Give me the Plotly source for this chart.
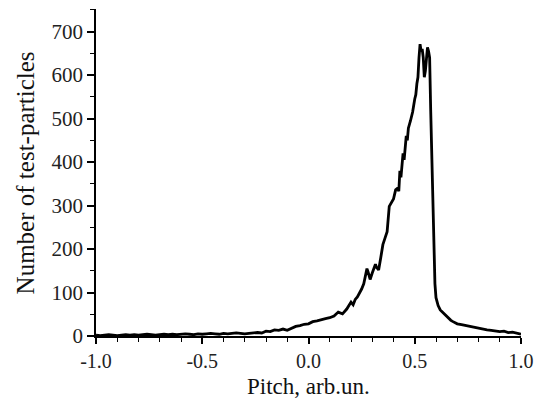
import plotly.graph_objects as go

pitch = [
    -1.00, -0.98, -0.96, -0.94, -0.92, -0.90, -0.88, -0.86, -0.84, -0.82,
    -0.80, -0.78, -0.76, -0.74, -0.72, -0.70, -0.68, -0.66, -0.64, -0.62,
    -0.60, -0.58, -0.56, -0.54, -0.52, -0.50, -0.48, -0.46, -0.44, -0.42,
    -0.40, -0.38, -0.36, -0.34, -0.32, -0.30, -0.28, -0.26, -0.24, -0.22,
    -0.20, -0.18, -0.16, -0.14, -0.12, -0.10, -0.08, -0.06, -0.04, -0.02,
    0.00, 0.02, 0.04, 0.06, 0.08, 0.10, 0.12, 0.14, 0.16, 0.18,
    0.20, 0.21, 0.22, 0.23, 0.24, 0.25, 0.26, 0.27, 0.275, 0.28,
    0.29, 0.30, 0.31, 0.315, 0.32, 0.33, 0.34, 0.35, 0.36, 0.37,
    0.38, 0.39, 0.40, 0.41, 0.42, 0.425, 0.43, 0.435, 0.44, 0.445,
    0.45, 0.455, 0.46, 0.465, 0.47, 0.48, 0.49, 0.50, 0.505, 0.51,
    0.515, 0.52, 0.525, 0.53, 0.535, 0.54, 0.545, 0.55, 0.555, 0.56,
    0.565, 0.57, 0.575, 0.58, 0.585, 0.59, 0.595, 0.60, 0.61, 0.62,
    0.63, 0.64, 0.65, 0.66, 0.67, 0.68, 0.69, 0.70, 0.72, 0.74,
    0.76, 0.78, 0.80, 0.82, 0.84, 0.86, 0.88, 0.90, 0.92, 0.94,
    0.96, 0.98, 1.00,
]

counts = [
    2, 1, 2, 3, 2, 1, 2, 3, 2, 3,
    2, 3, 4, 3, 2, 3, 4, 3, 4, 3,
    4, 5, 4, 3, 5, 4, 5, 6, 5, 4,
    6, 5, 6, 7, 6, 5, 6, 7, 8, 7,
    11, 10, 14, 13, 16, 13, 18, 22, 24, 27,
    28, 33, 35, 38, 40, 42, 46, 55, 51, 62,
    78, 72, 84, 90, 98, 108, 120, 140, 155, 148,
    130, 145, 160, 165, 158, 152, 180, 210, 225, 240,
    298, 308, 315, 336, 340, 333, 380, 365, 400, 420,
    405, 440, 460, 450, 478, 495, 515, 545, 555, 580,
    595, 640, 671, 655, 660, 640, 595, 610, 650, 664,
    655, 640, 520, 420, 280, 180, 120, 88, 70, 60,
    55, 50, 45, 42, 36, 33, 31, 28, 26, 24,
    21, 19, 17, 16, 14, 13, 12, 10, 11, 8,
    9, 7, 4,
]

x_ticks = [-1.0, -0.5, 0.0, 0.5, 1.0]
y_ticks = [0, 100, 200, 300, 400, 500, 600, 700]

font_family = "Liberation Serif, Times New Roman, serif"

fig = go.Figure()
fig.add_trace(go.Scatter(
    x=pitch, y=counts, mode="lines",
    line=dict(color="black", width=2.8),
    showlegend=False, hoverinfo="skip",
))

fig.update_layout(
    width=545, height=398,
    margin=dict(l=96, r=24, t=9, b=62),
    paper_bgcolor="white", plot_bgcolor="white",
    font=dict(family=font_family, size=20, color="#222"),
)

fig.update_xaxes(
    range=[-1.0, 1.0], automargin=False,
    tickmode="array", tickvals=x_ticks,
    ticktext=[f"{v:.1f}" for v in x_ticks],
    ticks="outside", ticklen=6, tickwidth=1.5, tickcolor="black",
    minor=dict(dtick=0.1, ticks="outside", ticklen=4, tickwidth=1.2, tickcolor="black", showgrid=False),
    showline=True, linecolor="black", linewidth=1.5,
    showgrid=False, zeroline=False,
    tickfont=dict(size=20, family=font_family, color="#222"),
)

fig.update_yaxes(
    range=[0, 752], automargin=False,
    tickmode="array", tickvals=y_ticks,
    ticks="outside", ticklen=7, tickwidth=1.5, tickcolor="black",
    minor=dict(dtick=50, ticks="outside", ticklen=4, tickwidth=1.2, tickcolor="black", showgrid=False),
    showline=True, linecolor="black", linewidth=1.5,
    showgrid=False, zeroline=False,
    tickfont=dict(size=21, family=font_family, color="#222"),
)

fig.add_annotation(
    text="Pitch, arb.un.", xref="paper", yref="paper",
    x=0.5, y=-0.155, yanchor="middle", xanchor="center", showarrow=False,
    font=dict(size=23, family=font_family, color="#111"),
)
fig.add_annotation(
    text="Number of test-particles", xref="paper", yref="paper",
    x=-0.165, y=0.5, textangle=-90, xanchor="center", yanchor="middle", showarrow=False,
    font=dict(size=25, family=font_family, color="#111"),
)

fig.write_html("out.html")
